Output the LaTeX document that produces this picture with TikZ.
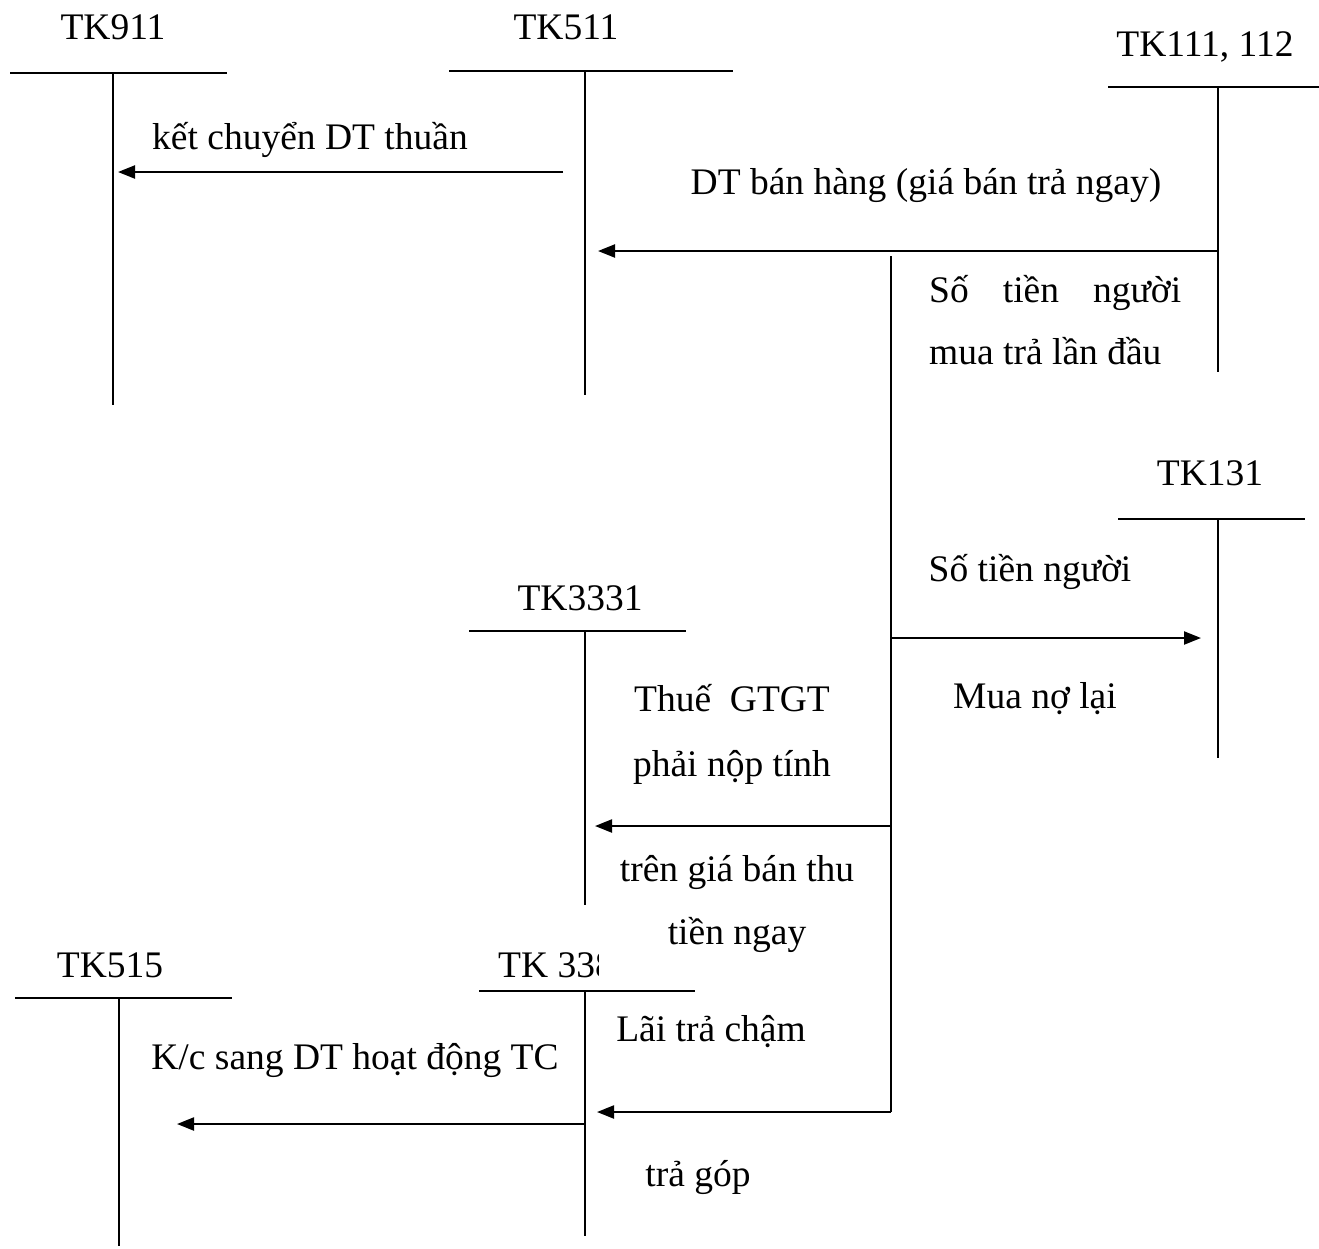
\documentclass[tikz,border=0pt]{standalone}
\usepackage{fontspec}
\setmainfont{Liberation Serif}
\usetikzlibrary{arrows.meta}
\begin{document}
\begin{tikzpicture}[x=1pt,y=-1pt,
  every node/.style={font=\fontsize{37.5}{45}\selectfont, inner sep=0pt},
  acc/.style={line width=1.8pt},
  arr/.style={line width=2.2pt,-{Triangle[length=17pt,width=13pt]}},
  lbl/.style={anchor=base}]
\useasboundingbox (0,0) rectangle (1319,1248);
% T-accounts
\coordinate (a911l) at (10,73); \coordinate (a911r) at (227,73);
\coordinate (a911t) at (113,73); \coordinate (a911b) at (113,405);
\draw[acc] (a911l) -- (a911r); \draw[acc] (a911t) -- (a911b);
\node[lbl] (t911) at (113,39) {TK911};

\coordinate (a511l) at (449,71); \coordinate (a511r) at (733,71);
\coordinate (a511t) at (585,71); \coordinate (a511b) at (585,395);
\draw[acc] (a511l) -- (a511r); \draw[acc] (a511t) -- (a511b);
\node[lbl] (t511) at (566,39) {TK511};

\coordinate (a111l) at (1108,87); \coordinate (a111r) at (1319,87);
\coordinate (a111t) at (1218,87); \coordinate (a111b) at (1218,372);
\draw[acc] (a111l) -- (a111r); \draw[acc] (a111t) -- (a111b);
\node[lbl] (t111) at (1205,56) {TK111, 112};

\coordinate (a131l) at (1118,519); \coordinate (a131r) at (1305,519);
\coordinate (a131t) at (1218,519); \coordinate (a131b) at (1218,758);
\draw[acc] (a131l) -- (a131r); \draw[acc] (a131t) -- (a131b);
\node[lbl] (t131) at (1210,485) {TK131};

\coordinate (a3331l) at (469,631); \coordinate (a3331r) at (686,631);
\coordinate (a3331t) at (585,631); \coordinate (a3331b) at (585,905);
\draw[acc] (a3331l) -- (a3331r); \draw[acc] (a3331t) -- (a3331b);
\node[lbl] (t3331) at (580,610) {TK3331};

\coordinate (a33l) at (479,991); \coordinate (a33r) at (695,991);
\coordinate (a33t) at (585,991); \coordinate (a33b) at (585,1236);
\draw[acc] (a33l) -- (a33r); \draw[acc] (a33t) -- (a33b);
\begin{scope}
\clip (470,940) rectangle (598,990);
\node[lbl,anchor=base west] (t33) at (498,977) {TK 3387};
\end{scope}

\coordinate (a515l) at (15,998); \coordinate (a515r) at (232,998);
\coordinate (a515t) at (119,998); \coordinate (a515b) at (119,1246);
\draw[acc] (a515l) -- (a515r); \draw[acc] (a515t) -- (a515b);
\node[lbl] (t515) at (110,977) {TK515};

% connectors
\coordinate (s1) at (563,172); \coordinate (e1) at (118,172);
\draw[arr] (s1) -- (e1);
\node[lbl] (l1) at (310,149) {kết chuyển DT thuần};

\coordinate (s2) at (1218,251); \coordinate (e2) at (598,251);
\draw[arr] (s2) -- (e2);
\node[lbl] (l2) at (926,194) {DT bán hàng (giá bán trả ngay)};

\coordinate (vt) at (891,256); \coordinate (vb) at (891,1112);
\draw[acc] (vt) -- (vb);
\node[lbl,anchor=base west] (l3a) at (929,302) {\makebox[252pt][s]{Số\hfill tiền\hfill người}};
\node[lbl,anchor=base west] (l3b) at (929,364) {mua trả lần đầu};

\coordinate (s4) at (891,638); \coordinate (e4) at (1201,638);
\draw[arr] (s4) -- (e4);
\node[lbl] (l4a) at (1030,581) {Số tiền người};
\node[lbl] (l4b) at (1035,708) {Mua nợ lại};

\coordinate (s5) at (891,826); \coordinate (e5) at (595,826);
\draw[arr] (s5) -- (e5);
\node[lbl] (l5a) at (732,711) {Thuế\ \ GTGT};
\node[lbl] (l5b) at (732,776) {phải nộp tính};
\node[lbl] (l5c) at (737,881) {trên giá bán thu};
\node[lbl] (l5d) at (737,944) {tiền ngay};

\coordinate (s6) at (891,1112); \coordinate (e6) at (597,1112);
\draw[arr] (s6) -- (e6);
\node[lbl] (l6a) at (711,1041) {Lãi trả chậm};
\node[lbl] (l6b) at (698,1186) {trả góp};

\coordinate (s7) at (585,1124); \coordinate (e7) at (177,1124);
\draw[arr] (s7) -- (e7);
\node[lbl] (l7) at (355,1069) {K/c sang DT hoạt động TC};
\end{tikzpicture}
\end{document}
